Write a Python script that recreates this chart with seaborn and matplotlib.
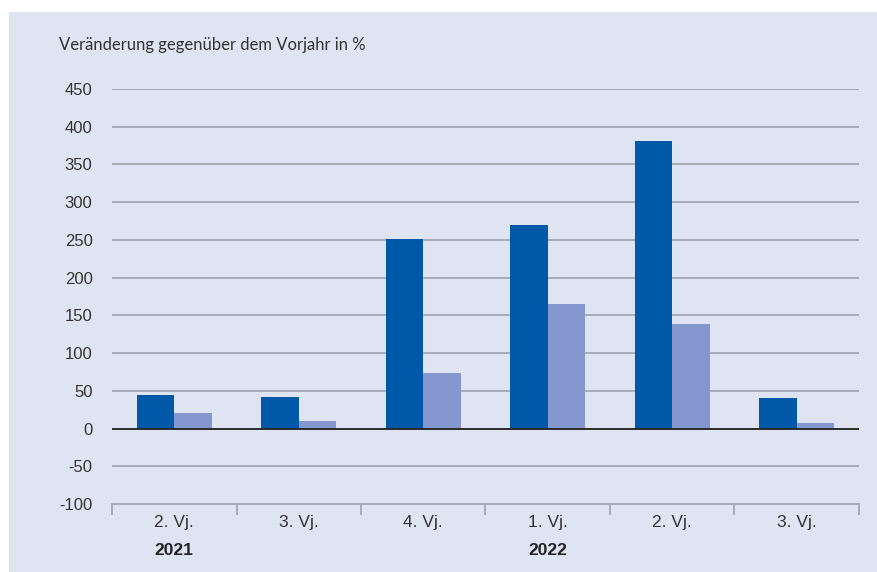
import matplotlib
matplotlib.use("Agg")
import matplotlib.pyplot as plt
import matplotlib.transforms as mtransforms
import pandas as pd
import seaborn as sns

# Quartale (Vierteljahre) und Jahre
quarters = ["2. Vj.", "3. Vj.", "4. Vj.", "1. Vj.", "2. Vj.", "3. Vj."]
years = ["2021", "2021", "2021", "2022", "2022", "2022"]
series_names = ["Reihe 1", "Reihe 2"]
values_dark = [45, 42, 251, 270, 381, 40]
values_light = [20, 10, 73, 165, 139, 8]
y_ticks = [-100, -50, 0, 50, 100, 150, 200, 250, 300, 350, 400, 450]

keys = [f"{y} {q}" for y, q in zip(years, quarters)]
df = pd.DataFrame({
    "periode": keys * 2,
    "serie": [series_names[0]] * len(keys) + [series_names[1]] * len(keys),
    "wert": values_dark + values_light,
})

BG = "#dfe4f2"
DARK = "#0058a8"
LIGHT = "#8497cf"
GRID = "#a2a6b0"

sns.set_theme(style="white")
plt.rcParams["font.family"] = ["Liberation Sans", "DejaVu Sans"]

fig = plt.figure(figsize=(8.78, 5.72), dpi=100)
fig.patch.set_facecolor("white")
# lavender panel behind the chart
panel = plt.Rectangle((9 / 878, 0), 1 - 9 / 878, 1 - 12 / 572,
                      transform=fig.transFigure, facecolor=BG,
                      edgecolor="none", zorder=-5)
fig.add_artist(panel)

ax = fig.add_axes([112 / 878, 1 - 504 / 572, (859 - 112) / 878, (504 - 89) / 572])
ax.set_zorder(1)
ax.patch.set_alpha(0)

sns.barplot(data=df, x="periode", y="wert", hue="serie", order=keys,
            hue_order=series_names, palette=[DARK, LIGHT], width=0.6,
            saturation=1, legend=False, ax=ax, zorder=3)
for p in ax.patches:
    p.set_edgecolor("none")

ax.set_ylim(-100, 450)
ax.set_xlim(-0.5, len(keys) - 0.5)
ax.set_yticks(y_ticks)
ax.set_yticklabels([str(t) for t in y_ticks], fontsize=12, color="#333333")

for t in y_ticks:
    if t == -100:
        continue
    if t == 0:
        ax.axhline(0, color="#2b2b2b", lw=1.4, zorder=4)
    else:
        ax.axhline(t, color=GRID, lw=1.3, zorder=1)

for s in ["left", "right", "top"]:
    ax.spines[s].set_visible(False)
ax.spines["bottom"].set_color(GRID)
ax.spines["bottom"].set_linewidth(1.3)

# group boundaries as downward ticks, labels at group centres
ax.set_xticks([i - 0.5 for i in range(len(keys) + 1)])
ax.set_xticklabels([])
ax.set_xticks(range(len(keys)), minor=True)
ax.set_xticklabels(quarters, minor=True, fontsize=12.5, color="#333333")
ax.tick_params(axis="x", which="major", direction="out", length=8,
               width=1.3, color=GRID, bottom=True)
ax.tick_params(axis="x", which="minor", length=0, pad=8)
ax.tick_params(axis="y", length=0, pad=14)
ax.set_xlabel("")
ax.set_ylabel("")

# year labels under the first quarter of each year
trans = mtransforms.blended_transform_factory(ax.transData, ax.transAxes)
seen = set()
for i, y in enumerate(years):
    if y not in seen:
        seen.add(y)
        ax.text(i, -0.113, y, transform=trans, ha="center", va="center",
                fontsize=12.5, fontweight="bold", color="#222222")

fig.text(59 / 878, 1 - 45 / 572, "Veränderung gegenüber dem Vorjahr in %",
         ha="left", va="center", fontsize=12, color="#333333",
         family=["Lato", "DejaVu Sans"])

fig.savefig("out.png", dpi=100, facecolor=fig.get_facecolor())
